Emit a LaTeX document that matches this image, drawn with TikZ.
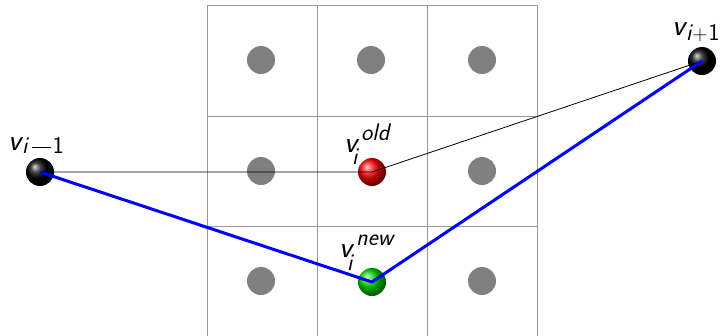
\documentclass[tikz,border=0pt]{standalone}
\usepackage{fontspec}
\newcommand{\vv}{{\fontsize{30}{34}\selectfont\sffamily\slshape v}}
\newcommand{\sm}[1]{{\fontsize{24}{26}\selectfont\sffamily #1}}
\newcommand{\minusbar}{\kern4pt\rule[5pt]{19pt}{1.3pt}\kern2pt}
\newcommand{\plusmark}{\kern1pt{\fontsize{20}{22}\selectfont$+$}\kern1pt}
\begin{document}
\begin{tikzpicture}[x=1pt,y=-1pt,
  gridline/.style={draw=black!40,line width=1pt},
  dot/.style={circle,fill=black!50,minimum size=28pt,inner sep=0pt},
  ballnode/.style={circle,ball color=#1,minimum size=28pt,inner sep=0pt},
  thinline/.style={black,line width=0.8pt},
  blueline/.style={blue,line width=3pt},
  lbl/.style={anchor=base west,inner sep=0pt}]
\useasboundingbox (0,0) rectangle (728,335);
% grid
\foreach \x in {207,317,427,537} \draw[gridline] (\x,5) -- (\x,336);
\foreach \y in {5,116,226} \draw[gridline] (207,\y) -- (537,\y);
% gray dots
\node[dot] (d11) at (261,60) {};
\node[dot] (d12) at (371,60) {};
\node[dot] (d13) at (482,60) {};
\node[dot] (d21) at (261,171) {};
\node[dot] (d23) at (482,171) {};
\node[dot] (d31) at (261,281) {};
\node[dot] (d33) at (482,281) {};
% balls
\node[ballnode=black] (vm) at (40,172) {};
\node[ballnode=red] (vold) at (372,172) {};
\node[ballnode=green!85!black] (vnew) at (372,282) {};
\node[ballnode=black] (vp) at (702,61) {};
% lines
\draw[thinline] (vm.center) -- (vold.center) -- (vp.center);
\draw[blueline,line join=round] (vm.center) -- (vnew.center) -- (vp.center);
% labels
\node[lbl] (lm) at (8,150) {\vv\kern1pt\raisebox{-3pt}{\sm{\slshape i}\minusbar\sm{1}}};
\node[lbl] (lold) at (344,152) {\vv\rlap{\kern-5pt\raisebox{-12pt}{\sm{\slshape i}}}\kern4pt\raisebox{12pt}{\sm{\slshape old}}};
\node[lbl] (lnew) at (339,257) {\vv\rlap{\kern-5pt\raisebox{-13pt}{\sm{\slshape i}}}\kern4pt\raisebox{12pt}{\sm{\slshape new}}};
\node[lbl] (lp) at (672,35) {\vv\kern1pt\raisebox{-5pt}{\sm{\slshape i}\plusmark\sm{1}}};
\end{tikzpicture}
\end{document}
